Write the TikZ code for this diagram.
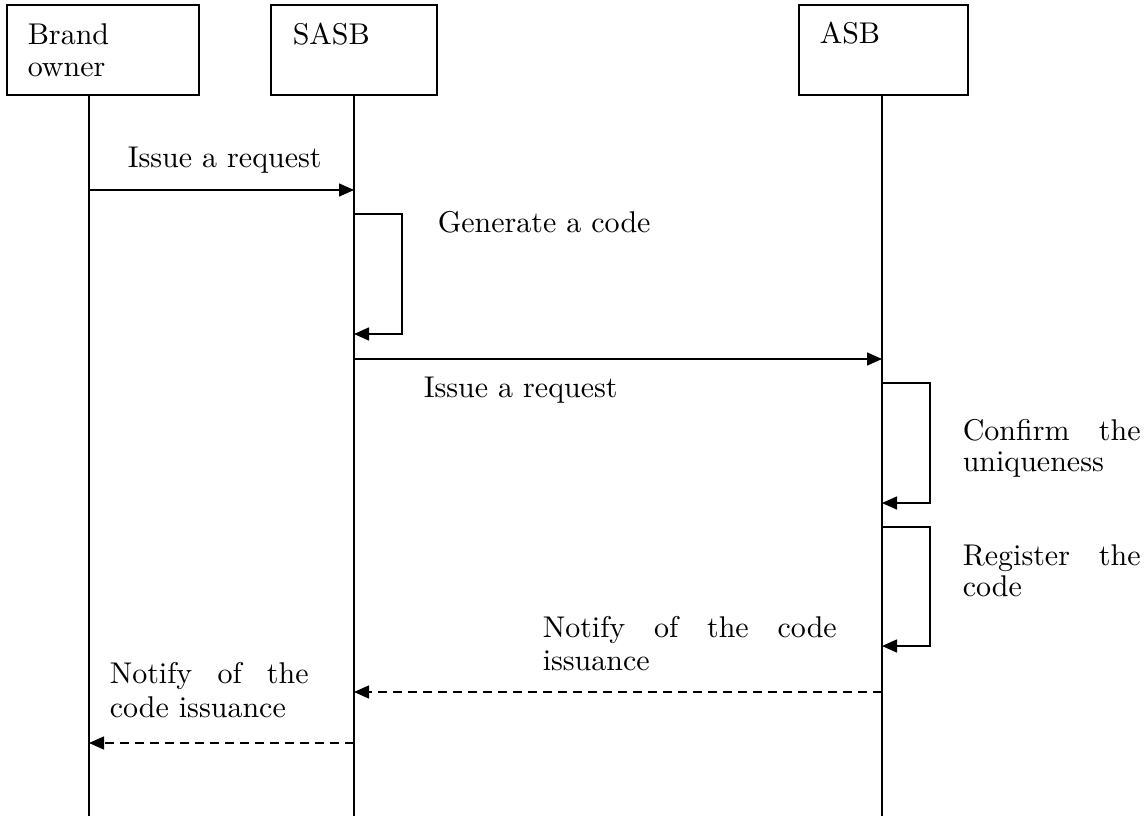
\documentclass[tikz,border=0pt]{standalone}
\usepackage{graphicx}
\usetikzlibrary{arrows.meta}
% labels are set at 10pt design size and enlarged, which keeps the strokes heavy
\newcommand{\biglbl}[1]{\scalebox{3}{\fontsize{10}{11}\selectfont #1}}
\begin{document}
\begin{tikzpicture}[x=1pt,y=-1pt,
  line width=1.5pt,
  actorbox/.style={draw,line width=1.8pt,rectangle,inner sep=0pt},
  lbl/.style={anchor=base west,inner sep=0pt},
  msg/.style={-{Triangle[length=15pt,width=13pt]}},
  reply/.style={msg,dash pattern=on 9pt off 6pt},
  lifeline/.style={line width=1.5pt}]
\useasboundingbox (0,0) rectangle (1146,816);

% participant boxes
\node[actorbox,minimum width=192pt,minimum height=90pt] (bo) at (103,50) {};
\node[actorbox,minimum width=166pt,minimum height=90pt] (sasb) at (354,50) {};
\node[actorbox,minimum width=169pt,minimum height=90pt] (asb) at (883.5,50) {};

\node[lbl] (bo-l1) at (27,45) {\biglbl{Brand}};
\node[lbl] (bo-l2) at (27,77) {\biglbl{owner}};
\node[lbl] (sasb-l) at (292,45) {\biglbl{SASB}};
\node[lbl] (asb-l) at (819,44) {\biglbl{ASB}};

% lifelines
\coordinate (bo-top) at (89,95);   \coordinate (bo-bot) at (89,816);
\coordinate (sa-top) at (354,95);  \coordinate (sa-bot) at (354,816);
\coordinate (as-top) at (882,95);  \coordinate (as-bot) at (882,816);
\draw[lifeline] (bo-top) -- (bo-bot);
\draw[lifeline] (sa-top) -- (sa-bot);
\draw[lifeline] (as-top) -- (as-bot);

% message anchors on the lifelines
\coordinate (m1a) at (89,190);   \coordinate (m1b) at (354,190);
\coordinate (s1a) at (354,214);  \coordinate (s1b) at (354,334);
\coordinate (m2a) at (354,359);  \coordinate (m2b) at (882,359);
\coordinate (s2a) at (882,383);  \coordinate (s2b) at (882,503);
\coordinate (s3a) at (882,527);  \coordinate (s3b) at (882,646);
\coordinate (r1a) at (882,692);  \coordinate (r1b) at (354,692);
\coordinate (r2a) at (354,743);  \coordinate (r2b) at (89,743);

% messages
\draw[msg] (m1a) -- (m1b);
\draw[msg] (s1a) -- ++(48,0) |- (s1b);
\draw[msg] (m2a) -- (m2b);
\draw[msg] (s2a) -- ++(48,0) |- (s2b);
\draw[msg] (s3a) -- ++(48,0) |- (s3b);
\draw[reply] (r1a) -- (r1b);
\draw[reply] (r2a) -- (r2b);

% message labels
\node[lbl] (t1) at (127,167) {\biglbl{Issue a request}};
\node[lbl] (t2) at (437,232) {\biglbl{Generate a code}};
\node[lbl] (t3) at (423,397) {\biglbl{Issue a request}};
\node[lbl] (t4a) at (962,440) {\biglbl{\makebox[59.3pt][s]{Confirm the}}};
\node[lbl] (t4b) at (962,471) {\biglbl{uniqueness}};
\node[lbl] (t5a) at (962,565) {\biglbl{\makebox[59.3pt][s]{Register the}}};
\node[lbl] (t5b) at (962,596) {\biglbl{code}};
\node[lbl] (t6a) at (542,637) {\biglbl{\makebox[98pt][s]{Notify of the code}}};
\node[lbl] (t6b) at (542,670) {\biglbl{issuance}};
\node[lbl] (t7a) at (109,683) {\biglbl{\makebox[66.3pt][s]{Notify of the}}};
\node[lbl] (t7b) at (109,717) {\biglbl{code issuance}};
\end{tikzpicture}
\end{document}
